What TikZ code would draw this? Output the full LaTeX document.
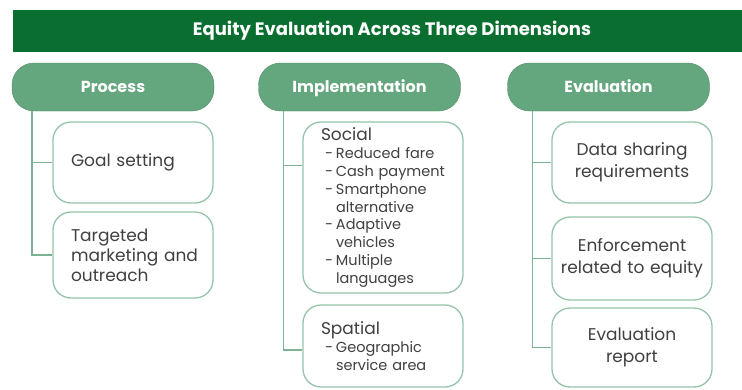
\documentclass[tikz,border=0pt]{standalone}
\usepackage{fontspec}
\setmainfont{Poppins}
\definecolor{eqdark}{RGB}{10,110,48}
\definecolor{eqmid}{RGB}{100,166,126}
\definecolor{eqline}{RGB}{150,196,170}
\definecolor{eqlink}{RGB}{125,178,148}
\definecolor{eqtext}{RGB}{64,64,64}
\usetikzlibrary{positioning}

\newcommand{\dashitem}[1]{\hspace*{4pt}\makebox[11pt][l]{-}#1}
\newcommand{\dashmore}[1]{\hspace*{15pt}#1}

\begin{document}
\begin{tikzpicture}[x=1pt, y=-1pt,
  barbox/.style={rectangle, fill=eqdark, minimum width=758pt, minimum height=42pt,
                 inner sep=0pt, font=\fontsize{18}{21}\selectfont\bfseries, text=white},
  headbox/.style={rectangle, rounded corners=22pt, fill=eqmid, draw=eqmid!85!black,
                  line width=0.4pt, minimum width=202pt, minimum height=48pt,
                  text height=13pt, text depth=2pt,
                  font=\fontsize{16}{19}\selectfont\bfseries, text=white},
  itembox/.style={rectangle, rounded corners=18pt, draw=eqline, line width=1.3pt,
                  fill=white, minimum width=160pt, text width=124pt, inner xsep=18pt,
                  font=\fontsize{17}{20}\selectfont, text=eqtext},
  evalbox/.style={itembox, text width=150pt, inner xsep=5pt, align=center,
                  font=\fontsize{17}{22}\selectfont},
  listfont/.style={font=\fontsize{14.5}{17.9}\selectfont},
  link/.style={draw=eqlink, line width=1.6pt}
]
\useasboundingbox (0,0) rectangle (742,389);
\fill[white] (0,0) rectangle (742,389);

% Title bar (runs off the right edge)
\node[barbox] (title) at (392,31) {Equity Evaluation Across Three Dimensions};

% Column heads
\node[headbox] (proc) at (113,87)   {Process};
\node[headbox] (impl) at (359.5,87) {Implementation};
\node[headbox] (eval) at (608.5,87) {Evaluation};

% Process column
\node[itembox, align=left, minimum height=81pt] (goal)   at (133,162.5) {Goal setting};
\node[itembox, align=left, minimum height=86pt] (target) at (133,255)
  {Targeted\\marketing~and\\outreach};

% Implementation column
\node[itembox, align=left, minimum height=171pt, listfont] (social) at (383,207.5)
  {{\fontsize{17}{18}\selectfont Social}\\
   \dashitem{Reduced fare}\\
   \dashitem{Cash payment}\\
   \dashitem{Smartphone}\\
   \dashmore{alternative}\\
   \dashitem{Adaptive}\\
   \dashmore{vehicles}\\
   \dashitem{Multiple}\\
   \dashmore{languages}};
\node[itembox, align=left, minimum height=82pt, listfont] (spatial) at (383,346)
  {{\fontsize{17}{18}\selectfont Spatial}\\
   \dashitem{Geographic}\\
   \dashmore{service~area}};

% Evaluation column
\node[evalbox, minimum height=81pt] (data)    at (632,162.5) {Data sharing\\requirements};
\node[evalbox, minimum height=83pt] (enforce) at (632,258.5) {Enforcement\\related to equity};
\node[evalbox, minimum height=79pt] (report)  at (632,347.5) {Evaluation\\report};

% Branch lines
\draw[link] ([xshift=20pt]proc.south west) |- (goal.west);
\draw[link] ([xshift=20pt]proc.south west) |- (target.west);
\draw[link] ([xshift=25pt]impl.south west) |- ([yshift=42pt]social.west);
\draw[link] ([xshift=25pt]impl.south west) |- ([yshift=-4pt]spatial.west);
\draw[link] ([xshift=25pt]eval.south west) |- (data.west);
\draw[link] ([xshift=25pt]eval.south west) |- (enforce.west);
\draw[link] ([xshift=25pt]eval.south west) |- (report.west);
\end{tikzpicture}
\end{document}
